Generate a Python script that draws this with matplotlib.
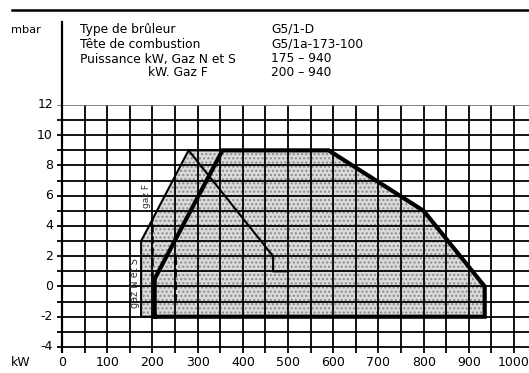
import matplotlib
matplotlib.use("Agg")
import matplotlib.pyplot as plt
import numpy as np
from matplotlib.lines import Line2D

plt.rcParams['font.family'] = ['DejaVu Sans']

# Data
nets_kw = [205, 205, 355, 590, 800, 935, 935, 205]
nets_mbar = [-2, 0.5, 9, 9, 5, 0, -2, -2]
gazf_kw = [205, 175, 175, 280, 355]
gazf_mbar = [-2, -2, 3, 9, 9]
diag_kw = [280, 467, 467, 500]
diag_mbar = [9, 2, 1, 1]
area_kw = [175, 175, 280, 590, 800, 935, 935]
area_mbar = [-2, 3, 9, 9, 5, 0, -2]
xticks = [0, 100, 200, 300, 400, 500, 600, 700, 800, 900, 1000]
yticks = [12, 10, 8, 6, 4, 2, 0, -2, -4]
header_left = ["Type de brûleur", "Tête de combustion", "Puissance kW, Gaz N et S", "kW. Gaz F"]
header_right = ["G5/1-D", "G5/1a-173-100", "175 – 940", "200 – 940"]

W, H = 529, 373
fig = plt.figure(figsize=(W / 100, H / 100), dpi=100)

def fx(px):
    return px / W

def fy(py):
    return 1 - py / H

ax_l, ax_r, ax_t, ax_b = 57, 529, 105, 353
ax = fig.add_axes([fx(ax_l), fy(ax_b), fx(ax_r) - fx(ax_l), fy(ax_t) - fy(ax_b)])
ax.set_xlim(-11, 1033)
ax.set_ylim(-4.4, 12)

for s in ax.spines.values():
    s.set_visible(False)
ax.set_xticks([])
ax.set_yticks([])

# grid
for v in np.arange(0, 1001, 50):
    ax.axvline(v, color='black', lw=1.3, zorder=2)
for h in np.arange(-4, 12, 1):
    ax.axhline(h, color='black', lw=1.3, zorder=2)
ax.axhline(12, color='#777777', lw=1.3, zorder=2)
ax.axvline(0, color='black', lw=1.6, zorder=2)

# shaded area
ax.fill(area_kw, area_mbar, facecolor='#dadada', edgecolor='none', zorder=1)
ax.fill(area_kw, area_mbar, facecolor='none', edgecolor='#8a8a8a', hatch='....', lw=0, zorder=1)

# outlines
ax.plot(gazf_kw, gazf_mbar, color='black', lw=1.5, zorder=3)
ax.plot(diag_kw, diag_mbar, color='black', lw=1.5, zorder=3)
ax.plot(nets_kw, nets_mbar, color='black', lw=3.0, zorder=4, solid_joinstyle='miter')
ax.plot([250, 250], [-1, 2.3], color='black', lw=2.0, ls=(0, (3, 1.5)), zorder=3)
ax.plot([200, 200], [0.6, 4.6], color='black', lw=1.8, ls=(0, (3, 1.5)), zorder=3)

ax.text(188, 6.0, "gaz F", rotation=90, ha='center', va='center', fontsize=6.5,
        color='#333333', zorder=5)
ax.text(161, 0.2, "gaz N et S", rotation=90, ha='center', va='center', fontsize=7,
        color='#333333', zorder=5)

# tick labels
for t in yticks:
    ax.text(-20, t, str(t), ha='right', va='center', fontsize=9, clip_on=False)
for t in xticks:
    ax.text(t, -5.0, str(t), ha='center', va='center', fontsize=9, clip_on=False)
fig.text(fx(11), fy(362), "kW", ha='left', va='center', fontsize=9)

# header
fig.add_artist(Line2D([fx(12), fx(529)], [fy(10), fy(10)], color='black', lw=1.8))
fig.add_artist(Line2D([fx(62), fx(62)], [fy(22), fy(105)], color='black', lw=1.6))
fig.text(fx(11), fy(30), "mbar", ha='left', va='center', fontsize=8.2)
rows = [29, 44, 59, 73]
lefts = [80, 80, 80, 148]
for r, x0, s in zip(rows, lefts, header_left):
    fig.text(fx(x0), fy(r), s, ha='left', va='center', fontsize=8.8)
for r, s in zip(rows, header_right):
    fig.text(fx(271), fy(r), s, ha='left', va='center', fontsize=8.8)

fig.savefig("out.png", dpi=100)
